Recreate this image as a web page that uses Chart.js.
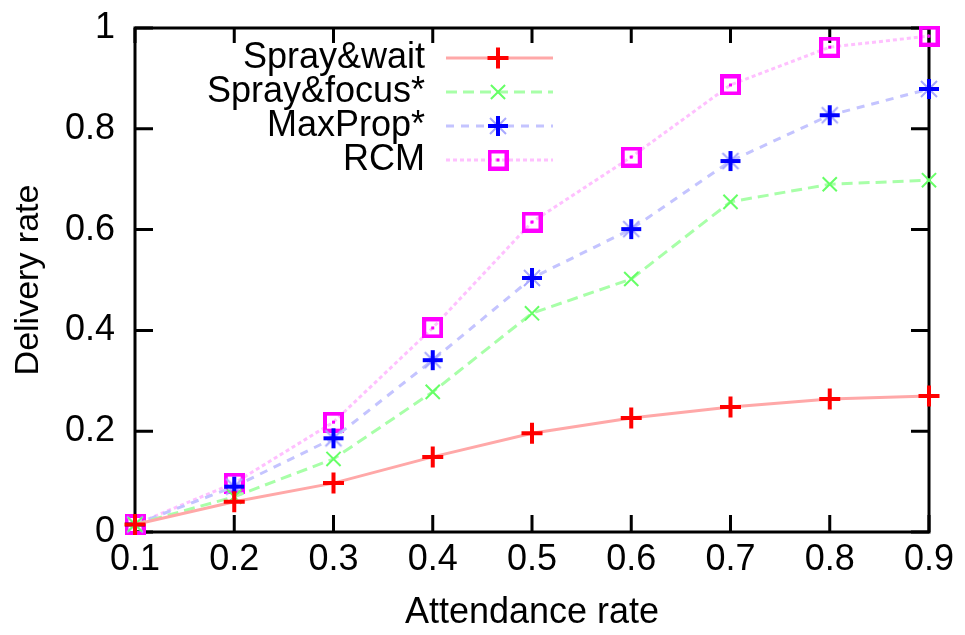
<!DOCTYPE html>
<html><head><meta charset="utf-8">
<script src="https://cdn.jsdelivr.net/npm/chart.js@4.4.1/dist/chart.umd.min.js"></script>
<style>html,body{margin:0;padding:0;background:#fff}#wrap{width:965px;height:635px;position:relative}</style>
</head><body><div id="wrap"><canvas id="c" width="965" height="635"></canvas></div>
<script>
// ---- data ----
const attendance = ['0.1','0.2','0.3','0.4','0.5','0.6','0.7','0.8','0.9'];
const sprayWait  = [0.015, 0.060, 0.097, 0.149, 0.196, 0.226, 0.248, 0.264, 0.270];
const sprayFocus = [0.015, 0.070, 0.145, 0.278, 0.434, 0.502, 0.655, 0.690, 0.698];
const maxProp    = [0.015, 0.090, 0.186, 0.341, 0.504, 0.601, 0.736, 0.827, 0.879];
const rcm        = [0.015, 0.097, 0.218, 0.405, 0.615, 0.744, 0.887, 0.962, 0.984];
const yTickLabels = ['0','0.2','0.4','0.6','0.8','1'];
const seriesNames = ['Spray&wait','Spray&focus*','MaxProp*','RCM'];
const xTitle = 'Attendance rate';
const yTitle = 'Delivery rate';

const FONT = '"Liberation Sans", Arial, sans-serif';

// custom marker images
function makeStarMarker(){
  const c = document.createElement('canvas'); c.width = 24; c.height = 24;
  const g = c.getContext('2d');
  g.strokeStyle = '#a8a8ff'; g.lineWidth = 2;
  g.beginPath(); g.moveTo(4,4); g.lineTo(20,20); g.moveTo(20,4); g.lineTo(4,20); g.stroke();
  g.strokeStyle = '#0000ff'; g.lineWidth = 4;
  g.beginPath(); g.moveTo(2,12); g.lineTo(22,12); g.moveTo(12,2); g.lineTo(12,22); g.stroke();
  return c;
}
function makeSquareMarker(){
  const c = document.createElement('canvas'); c.width = 21; c.height = 21;
  const g = c.getContext('2d');
  g.strokeStyle = '#ff00ff'; g.lineWidth = 4;
  g.strokeRect(2,2,17,17);
  g.fillStyle = '#ff00ff'; g.fillRect(9,9,3,3);
  return c;
}

const datasets = [
  {label: seriesNames[0], data: sprayWait, borderColor: '#ffa8a8', borderWidth: 3,
   pointStyle: 'cross', pointRadius: 10.5, pointBorderColor: '#ff0000', pointBorderWidth: 4,
   pointBackgroundColor: '#ff0000'},
  {label: seriesNames[1], data: sprayFocus, borderColor: '#a8ffa8', borderWidth: 3, borderDash: [11,6],
   pointStyle: 'crossRot', pointRadius: 10, pointBorderColor: '#66ff66', pointBorderWidth: 2,
   pointBackgroundColor: '#66ff66'},
  {label: seriesNames[2], data: maxProp, borderColor: '#c4c4ff', borderWidth: 3, borderDash: [8,7],
   pointStyle: makeStarMarker(), pointRadius: 12, pointBorderColor: '#0000ff'},
  {label: seriesNames[3], data: rcm, borderColor: '#ffc0ff', borderWidth: 3, borderDash: [4,3],
   pointStyle: makeSquareMarker(), pointRadius: 10, pointBorderColor: '#ff00ff'}
];
datasets.forEach(d => { d.fill = false; d.tension = 0; d.clip = false; d.pointHoverRadius = d.pointRadius; });

const framePlugin = {
  id: 'frame',
  beforeDatasetsDraw(chart){
    const {ctx, chartArea: a, scales} = chart;
    ctx.save();
    ctx.strokeStyle = '#000'; ctx.lineWidth = 3;
    ctx.strokeRect(a.left, a.top, a.right - a.left, a.bottom - a.top);
    ctx.beginPath();
    scales.x.ticks.forEach((t, i) => {
      const x = scales.x.getPixelForTick(i);
      ctx.moveTo(x, a.bottom); ctx.lineTo(x, a.bottom - 17);
      ctx.moveTo(x, a.top); ctx.lineTo(x, a.top + 15);
    });
    scales.y.ticks.forEach((t, i) => {
      const y = scales.y.getPixelForTick(i);
      ctx.moveTo(a.left, y); ctx.lineTo(a.left + 18, y);
      ctx.moveTo(a.right, y); ctx.lineTo(a.right - 18, y);
    });
    ctx.stroke();
    ctx.restore();
  },
  afterDraw(chart){
    const ctx = chart.ctx;
    ctx.save();
    chart.data.datasets.forEach((ds, i) => {
      const y = 58 + 34 * i;
      ctx.font = '36px ' + FONT;
      ctx.fillStyle = '#000';
      ctx.textAlign = 'right'; ctx.textBaseline = 'middle';
      ctx.fillText(ds.label, 425, y);
      ctx.strokeStyle = ds.borderColor; ctx.lineWidth = ds.borderWidth;
      ctx.setLineDash(ds.borderDash || []);
      ctx.beginPath(); ctx.moveTo(446, y); ctx.lineTo(553, y); ctx.stroke();
      ctx.setLineDash([]);
      ctx.strokeStyle = ds.pointBorderColor; ctx.fillStyle = ds.pointBorderColor;
      ctx.lineWidth = ds.pointBorderWidth || 1;
      Chart.helpers.drawPoint(ctx, {
        pointStyle: ds.pointStyle, radius: ds.pointRadius, rotation: 0,
        borderWidth: ds.pointBorderWidth || 1
      }, 498, y);
    });
    ctx.restore();
  }
};

new Chart(document.getElementById('c'), {
  type: 'line',
  data: {labels: attendance, datasets},
  options: {
    responsive: false, animation: false, devicePixelRatio: 1,
    layout: {padding: {top: 28, right: 36, left: 0, bottom: 0}},
    plugins: {legend: {display: false}, tooltip: {enabled: false}},
    scales: {
      x: {
        type: 'category', offset: false,
        grid: {display: false, drawTicks: false}, border: {display: false},
        ticks: {color: '#000', font: {family: FONT, size: 36}, padding: 6, maxRotation: 0, autoSkip: false},
        title: {display: true, text: xTitle, color: '#000', font: {family: FONT, size: 36}, padding: {top: 0, bottom: 0}},
        afterFit(s){ s.height = 103; s.paddingLeft = 0; s.paddingRight = 0; }
      },
      y: {
        min: 0, max: 1,
        grid: {display: false, drawTicks: false}, border: {display: false},
        ticks: {stepSize: 0.2, color: '#000', font: {family: FONT, size: 36}, padding: 20,
                callback: (v, i) => yTickLabels[i]},
        title: {display: true, text: yTitle, color: '#000', font: {family: FONT, size: 34}, padding: {top: 8, bottom: 0}},
        afterFit(s){ s.width = 135; s.paddingTop = 0; s.paddingBottom = 0; }
      }
    }
  },
  plugins: [framePlugin]
});
</script>
</body></html>
